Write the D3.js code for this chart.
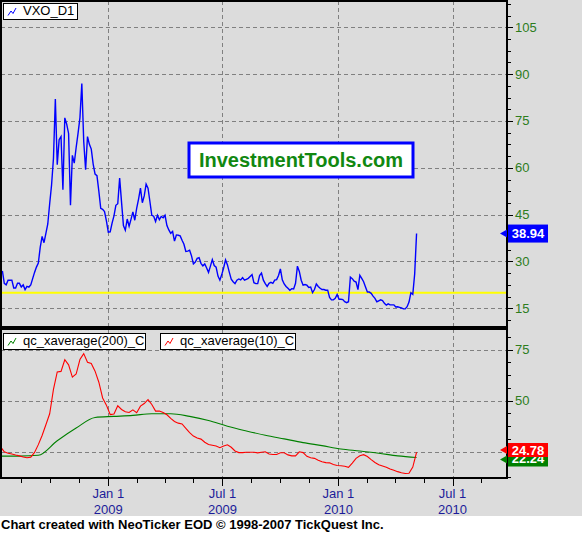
<!DOCTYPE html>
<html><head><meta charset="utf-8">
<script src="https://cdn.jsdelivr.net/npm/d3@7"></script>
<style>body{margin:0;background:#dcdcdc}svg{display:block}</style>
</head><body><svg id="c" width="582" height="533"></svg>
<script>
// ---------------- DATA ----------------
const vxoName = "VXO_D1";
const vxoStart = "2008-07-17";   // first bar of the sampled series
const vxoStepDays = 3;
const vxoValues = [
27,23,22.5,24,24,24,21.5,21.5,23,23,
21.8,22.5,21,22,21.8,22.5,24.5,26.5,28.2,29.5,
34.5,38,36,39,42,48.5,54.5,63,82,61,
69,70,53,76,74,71,48,64,61.5,66.5,
71,76,87,68.5,59.4,70,67.5,66,61.2,58,
57.5,52.5,47,46.7,46,43,39.4,39.5,42.3,44.6,
48,48.5,56.7,49,41.5,40,43.6,41.3,43.5,45.9,
43.2,47,50,53.5,48.8,51,54.8,53.5,49.2,44.8,
44.5,42.8,44.8,43.4,44.4,44,44.8,41.5,40.1,39,
39.6,36.5,38.5,38.4,38.2,36.8,35.5,33.2,33.3,33.6,
31.8,29.2,29.8,31,31.2,29.4,28.6,29.2,27.9,26.5,
28.5,30.6,28.7,28.2,25.3,24,25.8,28,30.5,28.9,
26.5,24.3,23.5,22.9,24,24.4,24.1,24.8,24,24.3,
24.6,25.2,25.8,23.2,22.9,22.9,25.5,26.3,24,22.9,
22,23,23.3,23,24,24.2,25.5,27.6,24.1,22.8,
22,21.4,20.8,21.3,21.2,23,28.5,26.8,24,22.4,
22.6,22.4,21.7,21.8,20,21,22.8,22,21.4,21,
21,20.8,20.8,18.5,17.7,17.7,18.2,19.4,17.9,17.9,
17.8,17.1,16.8,17.1,25,24.5,23.7,23.4,21,25.6,
24.6,23.5,21.8,20.2,20.2,19.8,18.9,18.2,17.1,17.4,
17.7,17.5,16.6,16,16.4,16.1,16.1,16.1,15.4,15.5,
15.3,15.1,14.8,14.8,15.5,17,20,19.5,26,38.94
];
const vxoLast = "38.94";
const refLevel = 20;

const ema200Name = "qc_xaverage(200)_C";
const ema200Start = "2008-07-14";
const ema200StepDays = 30;
const ema200Values = [22.9,22.9,23.3,30.4,36.6,41.8,42.3,42.8,43.6,43.6,42.3,40.3,37.5,35.2,33.1,31.3,29.5,28,26.4,25.4,24.3,23,22.24];
const ema200Last = "22.24";

const ema10Name = "qc_xaverage(10)_C";
const ema10Start = "2008-07-14";
const ema10StepDays = 6;
const ema10Values = [
27.5,25,24.3,23.9,23.4,23,22.5,22.1,22.4,24.7,
28.5,33,38.2,43.6,55.5,64,64.3,70,67.5,61.5,
63,70.1,73,68.8,68.2,64.4,59,51.3,47.8,43.2,
43.5,47.5,45.7,44.6,44.2,45.5,44.1,47.3,48.6,50.5,
48.1,44.9,44.9,44.2,43.1,41.3,39.8,39,38.6,36.5,
34.4,32.7,31.7,31.2,29.7,28.6,28.2,27.8,27,27.8,
28.4,27.2,25.4,24.6,24.6,24.8,24.8,24.8,24.5,24.8,
25,23.9,23.7,23.7,24.5,24.5,23.5,23,23,25,
24.6,22.8,22.1,21.8,20.9,20.1,19.7,19.6,18.8,18.3,
18.2,17.9,17.4,19.5,21.8,23.1,23.6,22.7,21.2,19.8,
18.7,18.1,17.5,16.6,16,15.3,14.8,14.4,14.5,17.5,
24.78
];
const ema10Last = "24.78";

const topTicks = [15,30,45,60,75,90,105];
const bottomTicks = [25,50,75];
const majorDates = ["2009-01-01","2009-07-01","2010-01-01","2010-07-01"];
const majorLabels = [["Jan 1","2009"],["Jul 1","2009"],["Jan 1","2010"],["Jul 1","2010"]];
const minorDates = ["2008-08-16","2008-10-01","2008-11-16","2009-02-15","2009-04-01","2009-05-16","2009-08-16","2009-10-01","2009-11-16","2010-02-15","2010-04-01","2010-05-16","2010-08-16"];
const watermark = "InvestmentTools.com";
const footer = "Chart created with NeoTicker EOD \u00a9 1998-2007 TickQuest Inc.";

// ---------------- DRAW ----------------
const parse = d3.utcParse("%Y-%m-%d");
const addDays = (s, n) => d3.utcDay.offset(parse(s), n);
const series = (start, step, vals) => vals.map((v, i) => ({d: addDays(start, i * step), v}));

const svg = d3.select("#c");
const font = "Arial, 'Liberation Sans', sans-serif";
const BG = "#dcdcdc";
const L = 1, R = 507;
const topP = {t: 1, b: 327};
const botP = {t: 329, b: 478};

const x = d3.scaleUtc().domain([parse("2009-01-01"), parse("2010-07-01")]).range([108.3, 452.5]);
const yT = d3.scaleLinear().domain([15, 105]).range([308.3, 27.3]);
const yB = d3.scaleLinear().domain([25, 75]).range([451.8, 349.5]);

svg.append("rect").attr("width", 582).attr("height", 533).attr("fill", BG);
svg.append("rect").attr("x", 0).attr("y", 516).attr("width", 582).attr("height", 17).attr("fill", "#fff");

const defs = svg.append("defs");
defs.append("clipPath").attr("id", "cT").append("rect").attr("x", L + 1).attr("y", topP.t + 1).attr("width", R - L - 2).attr("height", topP.b - topP.t - 2);
defs.append("clipPath").attr("id", "cB").append("rect").attr("x", L + 1).attr("y", botP.t + 1).attr("width", R - L - 2).attr("height", botP.b - botP.t - 2);
defs.append("clipPath").attr("id", "cG").append("rect").attr("x", 508).attr("y", 457).attr("width", 40).attr("height", 10);

function panel(P, y, ticks, minorStep, clipId) {
  const g = svg.append("g");
  const gc = g.append("g").attr("clip-path", `url(#${clipId})`);
  gc.selectAll("line.h").data(ticks).join("line")
    .attr("x1", L).attr("x2", R).attr("y1", d => Math.round(y(d)) + 0.5).attr("y2", d => Math.round(y(d)) + 0.5)
    .attr("stroke", "#808080").attr("stroke-dasharray", "4,3");
  gc.selectAll("line.v").data(majorDates).join("line")
    .attr("y1", P.t).attr("y2", P.b).attr("x1", d => Math.round(x(parse(d))) + 0.5).attr("x2", d => Math.round(x(parse(d))) + 0.5)
    .attr("stroke", "#808080").attr("stroke-dasharray", "4,3");
  const dom = y.domain();
  const vMin = y.invert(P.b), vMax = y.invert(P.t);
  const minors = [];
  for (let v = dom[0]; v >= vMin; v -= minorStep) minors.push(v);
  for (let v = dom[0] + minorStep; v <= vMax; v += minorStep) minors.push(v);
  g.selectAll("line.tk").data(minors).join("line")
    .attr("x1", R).attr("x2", d => ticks.includes(Math.round(d * 100) / 100) ? R + 6 : R + 4)
    .attr("y1", d => Math.round(y(d)) + 0.5).attr("y2", d => Math.round(y(d)) + 0.5)
    .attr("stroke", "#000");
  g.selectAll("text.tl").data(ticks).join("text")
    .attr("x", R + 8).attr("y", d => y(d) + 4.5)
    .attr("font-family", font).attr("font-size", 13).attr("fill", "#2d7d1c").text(d => d);
  return {g, gc};
}

const topPanel = panel(topP, yT, topTicks, 3.75, "cT");
const botPanel = panel(botP, yB, bottomTicks, 6.25, "cB");

topPanel.gc.append("line").attr("x1", L).attr("x2", R).attr("y1", yT(refLevel)).attr("y2", yT(refLevel))
  .attr("stroke", "#ffff00").attr("stroke-width", 2);

const lineT = d3.line().x(d => x(d.d)).y(d => yT(d.v));
topPanel.gc.append("path").datum(series(vxoStart, vxoStepDays, vxoValues)).attr("d", lineT)
  .attr("fill", "none").attr("stroke", "#0000ff").attr("stroke-width", 1.4);
botPanel.gc.append("path").datum(series(ema200Start, ema200StepDays, ema200Values))
  .attr("d", d3.line().x(d => x(d.d)).y(d => yB(d.v)).curve(d3.curveMonotoneX))
  .attr("fill", "none").attr("stroke", "#008000").attr("stroke-width", 1.1);
botPanel.gc.append("path").datum(series(ema10Start, ema10StepDays, ema10Values))
  .attr("d", d3.line().x(d => x(d.d)).y(d => yB(d.v)))
  .attr("fill", "none").attr("stroke", "#ff0000").attr("stroke-width", 1.1);

[topP, botP].forEach(P => {
  svg.append("rect").attr("x", L).attr("y", P.t).attr("width", R - L).attr("height", P.b - P.t)
    .attr("fill", "none").attr("stroke", "#000").attr("stroke-width", 2);
});

function legend(x0, y0, w, name, color) {
  const g = svg.append("g").attr("transform", `translate(${x0},${y0})`);
  g.append("rect").attr("x", 0.5).attr("y", 0.5).attr("width", w).attr("height", 16).attr("fill", "#fff").attr("stroke", "#000");
  g.append("path").attr("d", "M5,12.5 L8,8 L10,10.5 L13,5").attr("fill", "none").attr("stroke", color).attr("stroke-width", 1);
  g.append("text").attr("x", 20).attr("y", 12).attr("font-family", font).attr("font-size", 13).attr("fill", "#000").text(name);
}
legend(3, 3, 74, vxoName, "#0000ff");
legend(3, 333, 142, ema200Name, "#008000");
legend(160, 333, 135, ema10Name, "#ff0000");

svg.append("rect").attr("x", 189).attr("y", 143).attr("width", 224).attr("height", 34)
  .attr("fill", "#fff").attr("stroke", "#0000ff").attr("stroke-width", 3);
svg.append("text").attr("x", 301).attr("y", 167.3).attr("text-anchor", "middle")
  .attr("font-family", font).attr("font-weight", "bold").attr("font-size", 20).attr("fill", "#118811").text(watermark);

function valueLabel(yc, h, color, txt, clip, base) {
  svg.append("path").attr("d", `M500,${yc} L507,${yc - 4} L507,${yc + 4} Z`).attr("fill", color);
  svg.append("rect").attr("x", 508).attr("y", yc - h / 2).attr("width", 40).attr("height", h).attr("fill", color);
  const t = svg.append("text").attr("x", 528).attr("y", base != null ? base : yc + 4.7).attr("text-anchor", "middle")
    .attr("font-family", font).attr("font-weight", "bold").attr("font-size", 13).attr("fill", "#fff").text(txt);
  if (clip) t.attr("clip-path", `url(#${clip})`);
}
valueLabel(yT(+vxoLast), 18, "#0000ff", vxoLast);
valueLabel(459.5, 14, "#008000", ema200Last, "cG", 462.5);
valueLabel(450, 14, "#ff0000", ema10Last);

svg.selectAll("line.xm").data(minorDates).join("line")
  .attr("x1", d => Math.round(x(parse(d))) + 0.5).attr("x2", d => Math.round(x(parse(d))) + 0.5)
  .attr("y1", botP.b).attr("y2", botP.b + 5).attr("stroke", "#000");
svg.selectAll("line.xM").data(majorDates).join("line")
  .attr("x1", d => Math.round(x(parse(d))) + 0.5).attr("x2", d => Math.round(x(parse(d))) + 0.5)
  .attr("y1", botP.b).attr("y2", botP.b + 8).attr("stroke", "#000");
const xl = svg.selectAll("g.xl").data(majorDates).join("g")
  .attr("transform", d => `translate(${x(parse(d))},0)`);
xl.append("text").attr("y", 498).attr("text-anchor", "middle").attr("font-family", font).attr("font-size", 13)
  .attr("fill", "#1c1c9a").text((d, i) => majorLabels[i][0]);
xl.append("text").attr("y", 514).attr("text-anchor", "middle").attr("font-family", font).attr("font-size", 13)
  .attr("fill", "#1c1c9a").text((d, i) => majorLabels[i][1]);

svg.append("text").attr("x", 1).attr("y", 529).attr("font-family", font).attr("font-weight", "bold")
  .attr("font-size", 13).attr("fill", "#000").text(footer);
</script></body></html>
